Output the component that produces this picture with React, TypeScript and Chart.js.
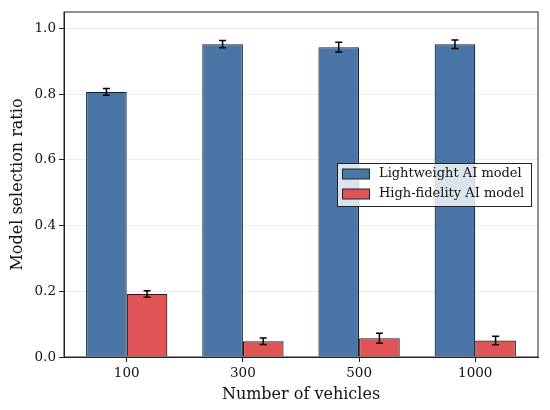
import { useEffect, useRef } from 'react';
import { Chart, registerables } from 'chart.js';
import type { Plugin } from 'chart.js';

Chart.register(...registerables);

const vehicleCounts = ['100', '300', '500', '1000'];
const lightweightRatio = [0.807, 0.952, 0.943, 0.952];
const lightweightError = [0.01, 0.011, 0.015, 0.013];
const highFidelityRatio = [0.192, 0.048, 0.057, 0.05];
const highFidelityError = [0.01, 0.01, 0.015, 0.013];
const yTicks = [0, 0.2, 0.4, 0.6, 0.8, 1.0];

const errors = [lightweightError, highFidelityError];

const FONT = "'DejaVu Serif', serif";
const EDGE = '#222222';

// bars sit at x = 0..n-1 on a linear axis so the side margins can match
const toPoints = (values: number[]) => values.map((y, x) => ({ x, y }));

const errorBarPlugin: Plugin<'bar'> = {
  id: 'errorBars',
  afterDatasetsDraw(chart) {
    const { ctx } = chart;
    const yScale = chart.scales.y;
    ctx.save();
    ctx.strokeStyle = '#000';
    ctx.lineWidth = 1.5;
    chart.data.datasets.forEach((ds, di) => {
      const meta = chart.getDatasetMeta(di);
      meta.data.forEach((bar, i) => {
        const v = (ds.data[i] as { y: number }).y;
        const e = errors[di][i];
        const top = yScale.getPixelForValue(v + e);
        const bottom = yScale.getPixelForValue(v - e);
        const x = bar.x;
        ctx.beginPath();
        ctx.moveTo(x, top);
        ctx.lineTo(x, bottom);
        ctx.moveTo(x - 3.5, top);
        ctx.lineTo(x + 3.5, top);
        ctx.moveTo(x - 3.5, bottom);
        ctx.lineTo(x + 3.5, bottom);
        ctx.stroke();
      });
    });
    ctx.restore();
  },
};

const frameAndLegendPlugin: Plugin<'bar'> = {
  id: 'frameAndLegend',
  afterDraw(chart) {
    const { ctx, chartArea } = chart;
    ctx.save();
    // frame round the plot
    ctx.strokeStyle = EDGE;
    ctx.lineWidth = 1;
    ctx.strokeRect(
      chartArea.left,
      chartArea.top,
      chartArea.right - chartArea.left,
      chartArea.bottom - chartArea.top,
    );

    // legend in the upper right, over the bars
    const boxX = 337.5;
    const boxY = 163.5;
    const boxW = 194;
    const boxH = 43;
    ctx.fillStyle = 'rgba(255,255,255,0.8)';
    ctx.fillRect(boxX, boxY, boxW, boxH);
    ctx.strokeStyle = EDGE;
    ctx.strokeRect(boxX, boxY, boxW, boxH);

    ctx.font = `13px ${FONT}`;
    ctx.textBaseline = 'middle';
    chart.data.datasets.forEach((ds, i) => {
      const cy = boxY + 10.5 + i * 20;
      ctx.fillStyle = ds.backgroundColor as string;
      ctx.fillRect(342.5, cy - 5, 27, 10);
      ctx.strokeStyle = '#1c2733';
      ctx.strokeRect(342.5, cy - 5, 27, 10);
      ctx.fillStyle = '#111';
      ctx.fillText(ds.label ?? '', 379, cy);
    });
    ctx.restore();
  },
};

export default function App() {
  const canvasRef = useRef<HTMLCanvasElement | null>(null);

  useEffect(() => {
    document.body.style.margin = '0';
    if (!canvasRef.current) {
      return;
    }

    const chart = new Chart(canvasRef.current, {
      type: 'bar',
      data: {
        datasets: [
          {
            label: 'Lightweight AI model',
            data: toPoints(lightweightRatio),
            backgroundColor: '#4a76a7',
            borderColor: '#17202b',
            borderWidth: 1.2,
            categoryPercentage: 0.7,
            barPercentage: 1.0,
          },
          {
            label: 'High-fidelity AI model',
            data: toPoints(highFidelityRatio),
            backgroundColor: '#e05456',
            borderColor: '#2a1c1c',
            borderWidth: 1.2,
            categoryPercentage: 0.7,
            barPercentage: 1.0,
          },
        ],
      },
      options: {
        responsive: false,
        animation: false,
        devicePixelRatio: 1,
        layout: { padding: { top: 12, right: 12, left: 0, bottom: 0 } },
        plugins: {
          legend: { display: false },
          tooltip: { enabled: false },
        },
        scales: {
          x: {
            type: 'linear',
            offset: false,
            min: -0.54,
            max: vehicleCounts.length - 1 + 0.54,
            afterBuildTicks: (scale) => {
              scale.ticks = vehicleCounts.map((_, value) => ({ value }));
            },
            grid: {
              offset: false,
              drawOnChartArea: false,
              tickColor: EDGE,
              tickLength: 5,
            },
            border: { color: EDGE, width: 1 },
            ticks: {
              color: '#111',
              font: { family: FONT, size: 13.5 },
              padding: 3,
              callback: (value) => vehicleCounts[Number(value)] ?? '',
            },
            title: {
              display: true,
              text: 'Number of vehicles',
              color: '#111',
              font: { family: FONT, size: 16 },
              padding: { top: 0, bottom: 6 },
            },
            afterFit: (scale) => {
              scale.height = 53;
            },
          },
          y: {
            min: 0,
            max: 1.05,
            afterBuildTicks: (scale) => {
              scale.ticks = yTicks.map((value) => ({ value }));
            },
            grid: {
              color: '#ebebeb',
              tickColor: EDGE,
              tickLength: 5,
            },
            border: { color: EDGE, width: 1 },
            ticks: {
              color: '#111',
              font: { family: FONT, size: 13.5 },
              padding: 3,
              callback: (value) => Number(value).toFixed(1),
            },
            title: {
              display: true,
              text: 'Model selection ratio',
              color: '#111',
              font: { family: FONT, size: 16 },
              padding: { top: 8, bottom: 0 },
            },
            afterFit: (scale) => {
              scale.width = 64;
            },
          },
        },
      },
      plugins: [errorBarPlugin, frameAndLegendPlugin],
    });

    return () => {
      chart.destroy();
    };
  }, []);

  return <canvas ref={canvasRef} width={550} height={410} />;
}
